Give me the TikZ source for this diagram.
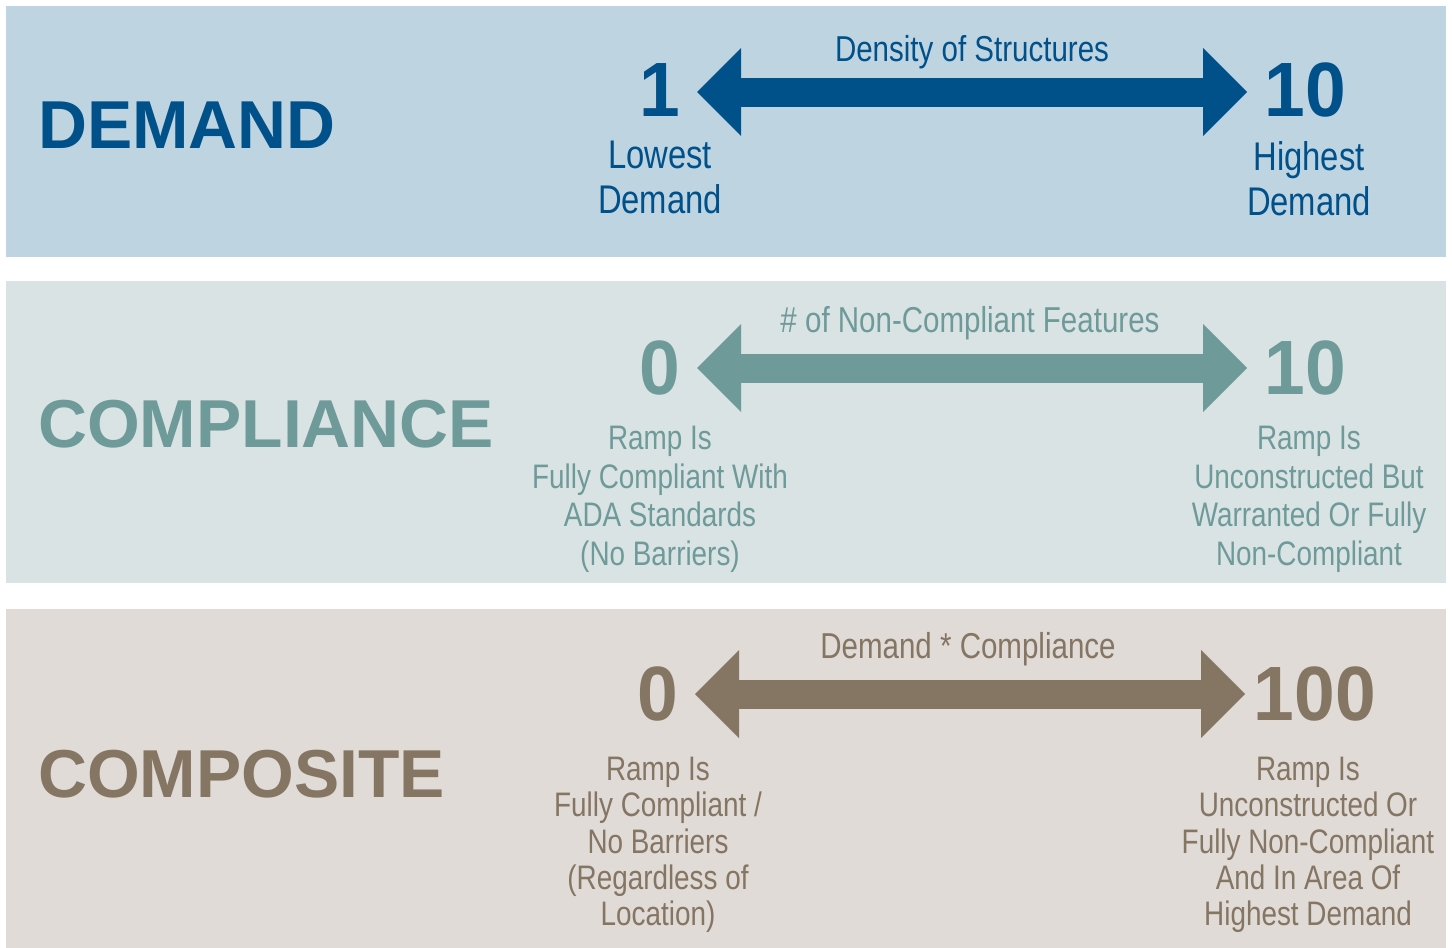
\documentclass[tikz,border=0pt]{standalone}
\usepackage{fontspec}
\setmainfont{Liberation Sans}
\newfontfamily\narrowfont[FakeStretch=0.82]{Liberation Sans}
\newfontfamily\numfont[FakeStretch=0.95]{Liberation Sans}
\usepackage{tikz}
\usetikzlibrary{arrows.meta}
\usepackage{xcolor}
\definecolor{demandblue}{HTML}{00508A}
\definecolor{demandpanel}{HTML}{BFD4E1}
\definecolor{complyteal}{HTML}{6E9A9A}
\definecolor{complypanel}{HTML}{DAE3E4}
\definecolor{compbrown}{HTML}{857563}
\definecolor{comppanel}{HTML}{E0DBD7}
\tikzset{
  bandtitle/.style={
    anchor=west,
    inner sep=0pt,
    font=\fontsize{67.8}{68}\selectfont\bfseries
  },
  scalenum/.style={
    inner sep=0pt,
    font=\numfont\fontsize{77}{77}\selectfont\bfseries
  },
  scalecaption/.style={
    anchor=base,
    inner sep=0pt,
    font=\narrowfont\fontsize{36}{36}\selectfont
  },
  scalelabel/.style={
    anchor=north,
    inner sep=0pt,
    align=center,
    font=\narrowfont\fontsize{40}{45}\selectfont
  },
  scalelabelsmall/.style={scalelabel, font=\narrowfont\fontsize{34}{38.5}\selectfont},
  scalelabeltight/.style={scalelabel, font=\narrowfont\fontsize{34}{36.3}\selectfont},
  scalearrow/.style={
    line width=29pt,
    {Triangle[length=44pt,width=88pt,line width=0pt]}-{Triangle[length=44pt,width=88pt,line width=0pt]}
  }
}
\begin{document}
\begin{tikzpicture}[x=1pt,y=-1pt]
\useasboundingbox (0,0) rectangle (1452,948);
\fill[demandpanel] (6,6) rectangle (1446,257);
\fill[complypanel] (6,281) rectangle (1446,583);
\fill[comppanel] (6,609) rectangle (1446,948);
\node[bandtitle, text=demandblue] (dt) at (38,125) {DEMAND};
\node[scalenum, text=demandblue] (dlo) at (660,90) {1};
\node[scalenum, text=demandblue] (dhi) at (1305,90) {10};
\node[scalecaption, text=demandblue] (dcap) at (972,61) {Density of Structures};
\node[scalelabel, text=demandblue] (dlotxt) at (660,141) {Lowest\\Demand};
\node[scalelabel, text=demandblue] (dhitxt) at (1309,141) {Highest\\Demand};
\coordinate (dl) at (697,92);
\coordinate (dr) at (1247,92);
\draw[scalearrow, demandblue] (dl) -- (dr);
\node[bandtitle, text=complyteal] (ct) at (38,424) {COMPLIANCE};
\node[scalenum, text=complyteal] (clo) at (660,368) {0};
\node[scalenum, text=complyteal] (chi) at (1305,368) {10};
\node[scalecaption, text=complyteal] (ccap) at (970,332) {\# of Non-Compliant Features};
\node[scalelabelsmall, text=complyteal] (clotxt) at (660,426) {Ramp Is\\Fully Compliant With\\ADA Standards\\(No Barriers)};
\node[scalelabelsmall, text=complyteal] (chitxt) at (1309,426) {Ramp Is\\Unconstructed But\\Warranted Or Fully\\Non-Compliant};
\coordinate (cl) at (697,368);
\coordinate (cr) at (1247,368);
\draw[scalearrow, complyteal] (cl) -- (cr);
\node[bandtitle, text=compbrown] (pt) at (38,774) {COMPOSITE};
\node[scalenum, text=compbrown] (plo) at (658,694) {0};
\node[scalenum, text=compbrown] (phi) at (1315,694) {100};
\node[scalecaption, text=compbrown] (pcap) at (968,658) {Demand * Compliance};
\node[scalelabeltight, text=compbrown] (plotxt) at (658,757) {Ramp Is\\Fully Compliant /\\No Barriers\\(Regardless of\\Location)};
\node[scalelabeltight, text=compbrown] (phitxt) at (1308,757) {Ramp Is\\Unconstructed Or\\Fully Non-Compliant\\And In Area Of\\Highest Demand};
\coordinate (pl) at (695,694);
\coordinate (pr) at (1245,694);
\draw[scalearrow, compbrown] (pl) -- (pr);
\end{tikzpicture}
\end{document}
